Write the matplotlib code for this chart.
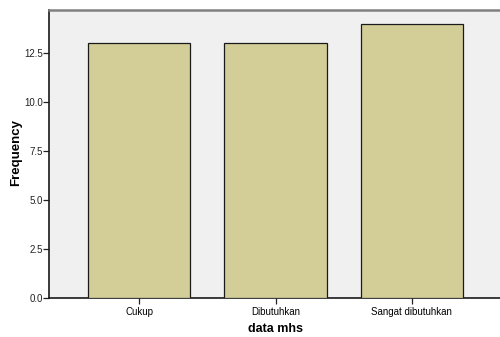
import matplotlib
matplotlib.use("Agg")
import matplotlib.pyplot as plt

categories = ["Cukup", "Dibutuhkan", "Sangat dibutuhkan"]
frequency = [13, 13, 14]
yticks = [0.0, 2.5, 5.0, 7.5, 10.0, 12.5]

plt.rcParams['font.family'] = ['Liberation Sans', 'DejaVu Sans']

W, H = 500, 337
fig = plt.figure(figsize=(W/100, H/100), dpi=100)
left, right, top, bottom = 49, 502, 10, 298
ax = fig.add_axes([left/W, 1 - bottom/H, (right-left)/W, (bottom-top)/H])
ax.set_facecolor('#F0F0F0')

x = list(range(len(categories)))
ax.bar(x, frequency, width=0.75, color='#D3CE98', edgecolor='#1a1a1a', linewidth=0.9, zorder=3)

ax.set_xlim(-0.665, len(categories) - 1 + 0.665)
ax.set_ylim(0, 14.7)
ax.set_xticks(x)
ax.set_xticklabels(categories, fontsize=7)
ax.set_yticks(yticks)
ax.set_yticklabels([f"{v:.1f}" for v in yticks], fontsize=7, color='#222222')
ax.tick_params(axis='both', direction='out', length=4, width=0.9, color='#222222')
ax.tick_params(axis='y', pad=0.5)
ax.tick_params(axis='x', pad=2.5)

for s in ['left', 'bottom']:
    ax.spines[s].set_color('#1a1a1a')
    ax.spines[s].set_linewidth(1.2)
ax.spines['top'].set_color('#808080')
ax.spines['top'].set_linewidth(1.8)
ax.spines['right'].set_visible(False)

ax.set_xlabel("data mhs", fontsize=9, fontweight='bold')
ax.set_ylabel("Frequency", fontsize=9.5, fontweight='bold')
ax.xaxis.set_label_coords((276 - left) / (right - left), -(329 - bottom) / (bottom - top))
ax.yaxis.set_label_coords(-(left - 16) / (right - left), (bottom - 152) / (bottom - top))
ax.xaxis.label.set_va('center')
ax.yaxis.label.set_va('center')

fig.savefig("out.png", dpi=100)
